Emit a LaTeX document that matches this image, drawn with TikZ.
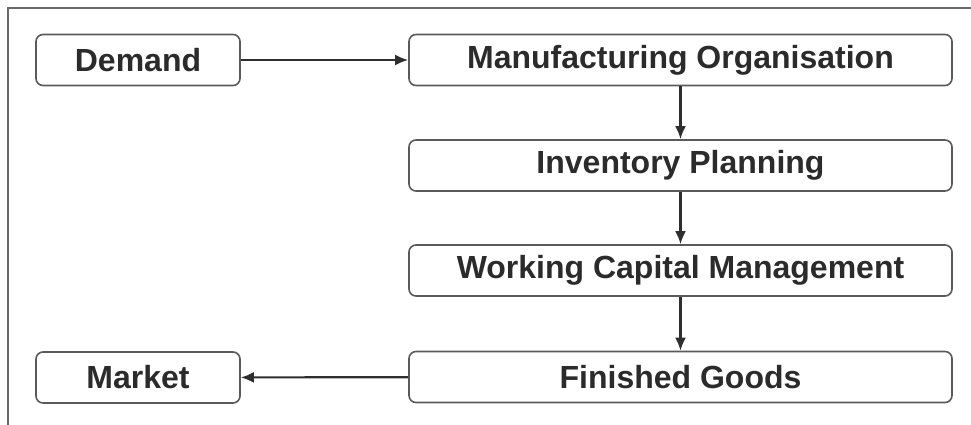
\documentclass[tikz,border=0pt]{standalone}
\usepackage{fontspec}
\setmainfont{Liberation Sans}
\usetikzlibrary{arrows.meta}
\definecolor{boxgray}{HTML}{5A5A5A}
\definecolor{framegray}{HTML}{6A6A6A}
\definecolor{txt}{HTML}{2B2B2B}
\definecolor{arrgray}{HTML}{2E2E2E}
\begin{document}
\begin{tikzpicture}[x=1pt,y=-1pt,
  box/.style={draw=boxgray, line width=1.6pt, rounded corners=7pt, minimum height=51pt,
    text=txt, font=\fontsize{32}{36}\selectfont\bfseries, inner sep=0pt},
  conn/.style={line width=2.2pt, draw=arrgray, -{Latex[length=13pt,width=11pt]}}]
\useasboundingbox (0,0) rectangle (971,425);
\draw[framegray, line width=1.6pt] (8,425) -- (8,8) -- (971,8);
\node[box, minimum width=204pt] (demand) at (138,60) {Demand};
\node[box, minimum width=543pt] (manuf) at (680.5,60) {Manufacturing Organisation};
\node[box, minimum width=543pt] (inv) at (680.5,165.5) {Inventory Planning};
\node[box, minimum width=543pt] (wc) at (680.5,270.5) {Working Capital Management};
\node[box, minimum width=543pt] (fg) at (680.5,377) {Finished Goods};
\node[box, minimum width=204pt] (market) at (138,377.5) {Market};
\draw[conn] (demand) -- (manuf);
\draw[conn] (manuf) -- (inv);
\draw[conn] (inv) -- (wc);
\draw[conn] (wc) -- (fg);
\draw[conn] (fg) -- (market);
\end{tikzpicture}
\end{document}
